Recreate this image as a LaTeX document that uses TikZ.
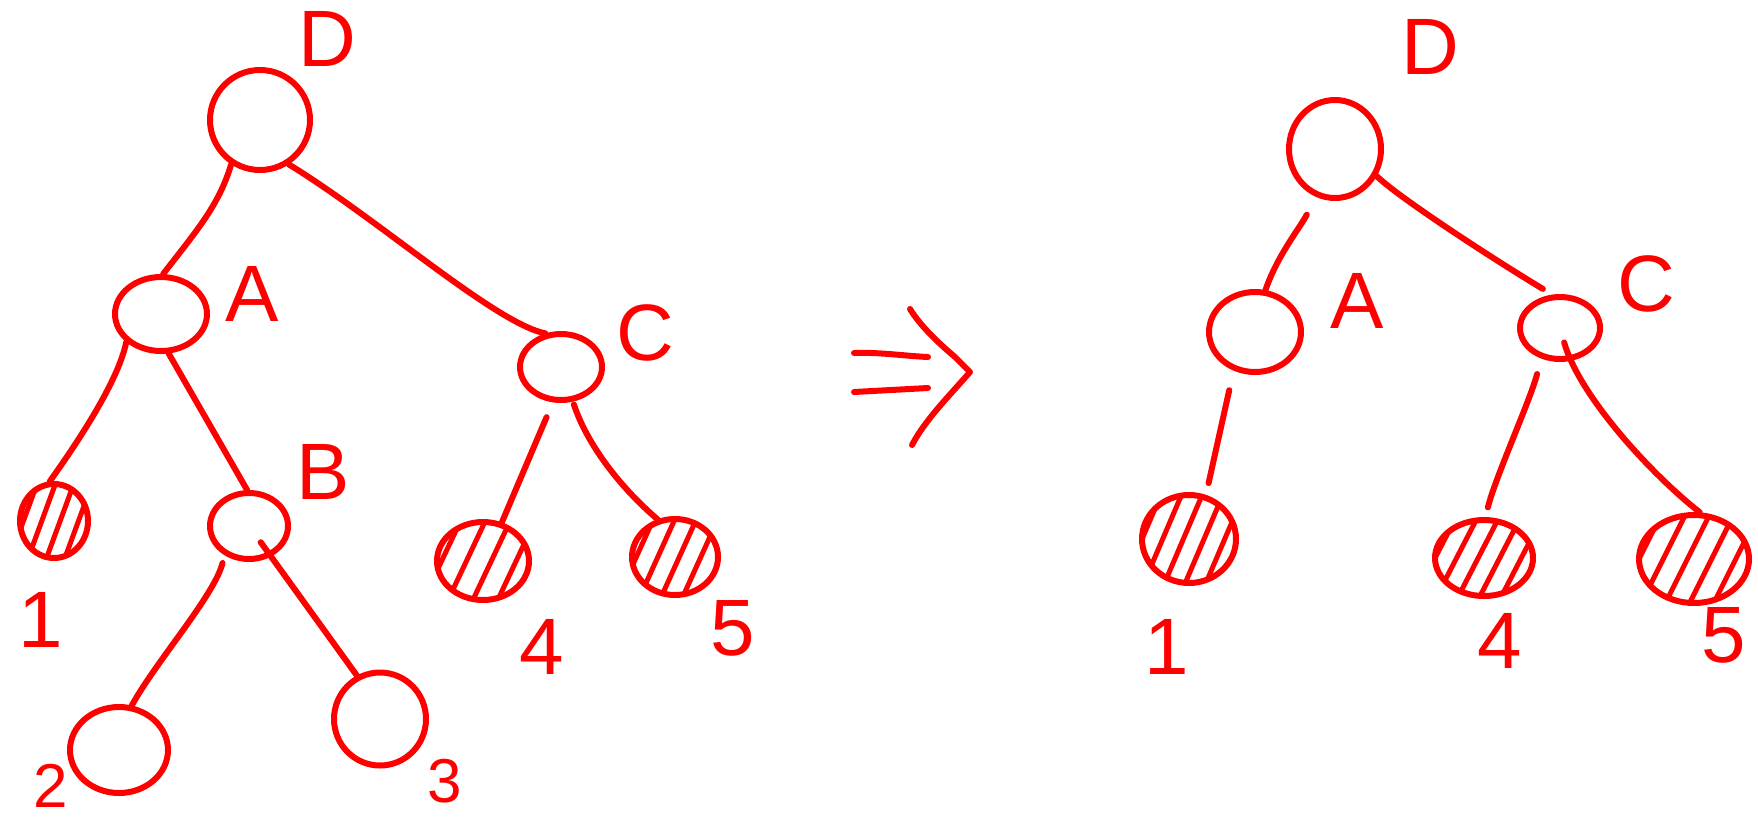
\documentclass[tikz,border=0pt]{standalone}
\usepackage{fontspec}
\setmainfont{Liberation Sans}
\usetikzlibrary{shapes.geometric,calc}
\begin{document}
\begin{tikzpicture}[x=1pt,y=-1pt,line cap=round,line join=round,
  pen/.style={draw=red,line width=6pt},
  tnode/.style={ellipse,pen,inner sep=0pt},
  leaf/.style={tnode,path picture={
    \foreach \t in {#1}{
      \draw[red,line width=5pt]
        ($(path picture bounding box.south west)!\t!(path picture bounding box.south east)$) --
        ($(path picture bounding box.north west)!\t+0.4!(path picture bounding box.north east)$);
    }}},
  conn/.style={pen},
  lab/.style={text=red,font=\fontsize{80}{90}\selectfont,inner sep=0pt},
  smalllab/.style={lab,font=\fontsize{62}{70}\selectfont}]
\useasboundingbox (0,0) rectangle (1758,820);

% ---------- left tree ----------
\node[tnode,minimum width=100pt,minimum height=100pt] (D) at (260,120) {};
\node[tnode,minimum width=92pt,minimum height=74pt] (A) at (161,314) {};
\node[tnode,minimum width=82pt,minimum height=66pt] (C) at (561,367) {};
\node[leaf={-0.15,0.12,0.39,0.66},minimum width=68pt,minimum height=74pt] (L1) at (54,521) {};
\node[tnode,minimum width=78pt,minimum height=66pt] (B) at (249,526) {};
\node[leaf={-0.15,0.12,0.39,0.66},minimum width=92pt,minimum height=78pt] (L4) at (483,561) {};
\node[leaf={-0.15,0.1,0.35,0.6},minimum width=86pt,minimum height=76pt] (L5) at (675,557) {};
\node[tnode,minimum width=98pt,minimum height=86pt] (L2) at (119,750) {};
\node[tnode,minimum width=92pt,minimum height=93pt] (L3) at (380,719) {};

\node[lab] (lD) at (327,39) {D};
\node[lab] (lA) at (252,294) {A};
\node[lab] (lC) at (645,333) {C};
\node[lab] (l1) at (41,620) {1};
\node[lab] (lB) at (323,472) {B};
\node[lab] (l4) at (542,647) {4};
\node[lab] (l5) at (733,628) {5};
\node[smalllab] (l2) at (51,786) {2};
\node[smalllab] (l3) at (445,781) {3};

\draw[conn] (D.237) .. controls +(-12,40) and +(35,-45) .. (A.87);
\draw[conn] (D.-57) .. controls +(90,55) and +(-50,-10) .. (C.115);
\draw[conn] (A.219) .. controls +(-8,40) and +(25,-35) .. (L1.96);
\draw[conn] (A.-79) -- (B.93);
\draw[conn,shorten <=8pt] (B.230) .. controls +(-10,40) and +(25,-45) .. (L2.74);
\draw[conn,shorten <=20pt] (B.center) -- (L3.118);
\draw[conn,shorten <=16pt] (C.257) -- (L4.64);
\draw[conn,shorten <=3pt] (C.-71) .. controls +(15,45) and +(-35,-30) .. (L5.115);

% ---------- arrow ----------
\draw[pen] (854,353) .. controls (880,352) and (905,356) .. (928,357);
\draw[pen] (854,392) -- (928,388);
\draw[pen] (910,309) .. controls (920,325) and (935,340) .. (955,357)
  -- (970,372) .. controls (950,395) and (925,420) .. (912,445);

% ---------- right tree ----------
\node[tnode,minimum width=92pt,minimum height=98pt] (D2) at (1335,149) {};
\node[tnode,minimum width=92pt,minimum height=80pt] (A2) at (1255,332) {};
\node[tnode,minimum width=80pt,minimum height=62pt] (C2) at (1560,328) {};
\node[leaf={-0.2,0.02,0.24,0.46,0.68},minimum width=94pt,minimum height=88pt] (R1) at (1189,539) {};
\node[leaf={-0.2,0.02,0.24,0.46,0.68},minimum width=98pt,minimum height=76pt] (R4) at (1484,558) {};
\node[leaf={-0.2,0.02,0.24,0.46,0.68},minimum width=110pt,minimum height=88pt] (R5) at (1694,559) {};

\node[lab] (rD) at (1430,47) {D};
\node[lab] (rA) at (1357,301) {A};
\node[lab] (rC) at (1646,284) {C};
\node[lab] (r1) at (1167,647) {1};
\node[lab] (r4) at (1500,641) {4};
\node[lab] (r5) at (1724,635) {5};

\draw[conn,shorten <=20pt] (D2.248) .. controls +(-15,30) and +(12,-35) .. (A2.76);
\draw[conn,shorten >=11pt] (D2.-33) .. controls +(20,20) and +(-60,-36) .. (C2.103);
\draw[conn,shorten <=20pt,shorten >=12pt] (A2.241) -- (R1.69);
\draw[conn,shorten <=16pt,shorten >=10pt] (C2.238) .. controls +(-10,40) and +(10,-40) .. (R4.88);
\draw[conn,shorten <=15pt] (C2.center) .. controls +(20,70) and +(-45,-35) .. (R5.83);
\end{tikzpicture}
\end{document}
